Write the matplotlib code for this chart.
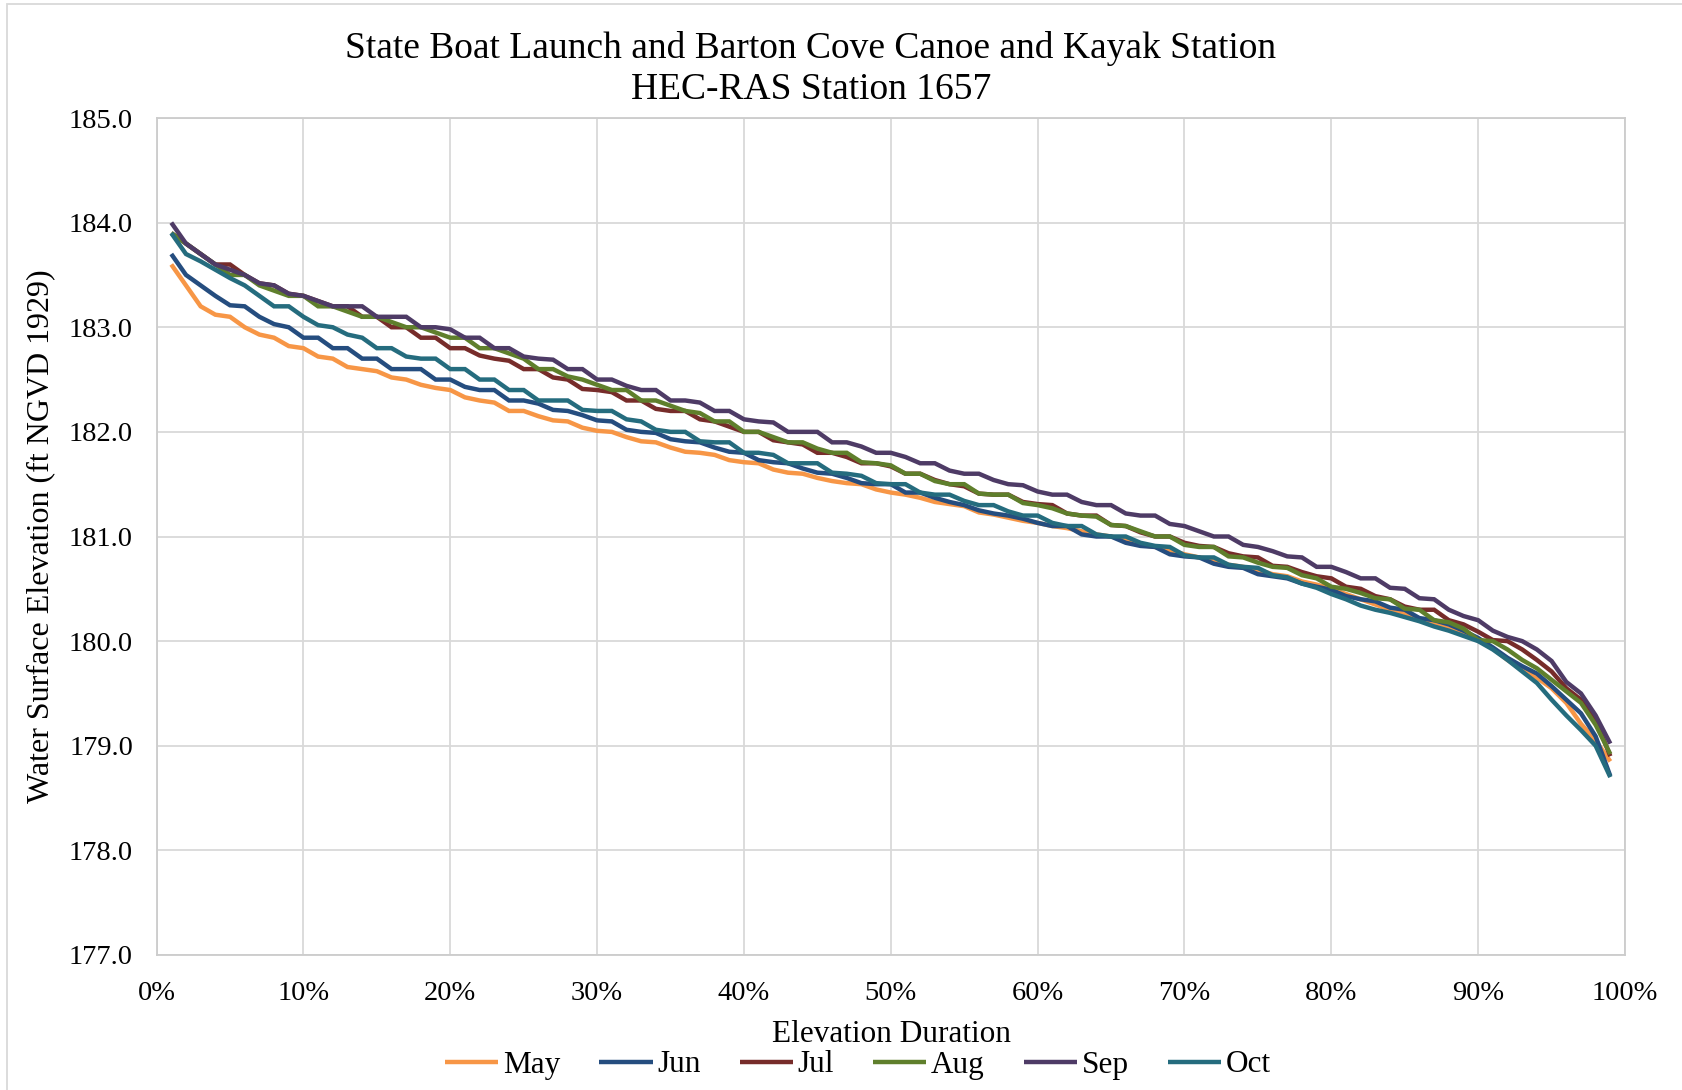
import matplotlib
matplotlib.use("Agg")
import matplotlib.pyplot as plt
from matplotlib.patches import Rectangle
from matplotlib.ticker import FuncFormatter
import numpy as np

# Exceedance percentages (1% .. 99%)
duration_pct = list(range(1, 100))

may = [183.60, 183.40, 183.20, 183.12, 183.10, 183.00, 182.93, 182.90, 182.82, 182.80,
       182.72, 182.70, 182.62, 182.60, 182.58, 182.52, 182.50, 182.45, 182.42, 182.40,
       182.33, 182.30, 182.28, 182.20, 182.20, 182.15, 182.11, 182.10, 182.04, 182.01,
       182.00, 181.95, 181.91, 181.90, 181.85, 181.81, 181.80, 181.78, 181.73, 181.71,
       181.70, 181.64, 181.61, 181.60, 181.56, 181.53, 181.51, 181.50, 181.45, 181.42,
       181.40, 181.37, 181.33, 181.31, 181.29, 181.23, 181.21, 181.18, 181.15, 181.13,
       181.10, 181.08, 181.05, 181.02, 181.00, 180.97, 180.92, 180.90, 180.87, 180.83,
       180.80, 180.78, 180.73, 180.71, 180.68, 180.64, 180.62, 180.57, 180.54, 180.50,
       180.45, 180.40, 180.35, 180.30, 180.27, 180.21, 180.17, 180.12, 180.07, 180.01,
       179.93, 179.82, 179.73, 179.65, 179.55, 179.41, 179.21, 179.05, 178.85]

jun = [183.70, 183.50, 183.40, 183.30, 183.21, 183.20, 183.10, 183.03, 183.00, 182.90,
       182.90, 182.80, 182.80, 182.70, 182.70, 182.60, 182.60, 182.60, 182.50, 182.50,
       182.43, 182.40, 182.40, 182.30, 182.30, 182.27, 182.21, 182.20, 182.16, 182.11,
       182.10, 182.02, 182.00, 181.99, 181.93, 181.91, 181.90, 181.85, 181.81, 181.80,
       181.73, 181.71, 181.70, 181.65, 181.61, 181.60, 181.56, 181.51, 181.50, 181.50,
       181.42, 181.42, 181.37, 181.33, 181.30, 181.25, 181.22, 181.20, 181.17, 181.13,
       181.10, 181.10, 181.02, 181.00, 181.00, 180.94, 180.91, 180.90, 180.83, 180.81,
       180.80, 180.74, 180.71, 180.70, 180.64, 180.62, 180.60, 180.55, 180.52, 180.49,
       180.43, 180.40, 180.38, 180.32, 180.30, 180.22, 180.20, 180.16, 180.10, 180.03,
       179.94, 179.84, 179.76, 179.69, 179.57, 179.44, 179.31, 179.09, 178.71]

jul = [183.90, 183.80, 183.70, 183.60, 183.60, 183.50, 183.42, 183.40, 183.32, 183.30,
       183.25, 183.20, 183.20, 183.10, 183.10, 183.00, 183.00, 182.90, 182.90, 182.80,
       182.80, 182.73, 182.70, 182.68, 182.60, 182.60, 182.52, 182.50, 182.41, 182.40,
       182.38, 182.30, 182.30, 182.22, 182.20, 182.20, 182.12, 182.10, 182.05, 182.00,
       182.00, 181.92, 181.90, 181.88, 181.80, 181.80, 181.76, 181.70, 181.70, 181.67,
       181.60, 181.60, 181.54, 181.50, 181.48, 181.41, 181.40, 181.40, 181.33, 181.31,
       181.30, 181.22, 181.20, 181.20, 181.11, 181.10, 181.04, 181.00, 181.00, 180.94,
       180.91, 180.90, 180.84, 180.81, 180.80, 180.72, 180.71, 180.66, 180.62, 180.60,
       180.52, 180.50, 180.43, 180.40, 180.33, 180.30, 180.30, 180.20, 180.16, 180.09,
       180.01, 180.00, 179.92, 179.82, 179.71, 179.55, 179.44, 179.25, 178.90]

aug = [183.90, 183.80, 183.70, 183.60, 183.50, 183.50, 183.40, 183.35, 183.30, 183.30,
       183.20, 183.20, 183.15, 183.10, 183.10, 183.05, 183.00, 183.00, 182.95, 182.90,
       182.90, 182.80, 182.80, 182.75, 182.70, 182.60, 182.60, 182.53, 182.50, 182.45,
       182.40, 182.40, 182.30, 182.30, 182.25, 182.20, 182.18, 182.10, 182.10, 182.00,
       182.00, 181.95, 181.90, 181.90, 181.84, 181.80, 181.80, 181.71, 181.70, 181.68,
       181.60, 181.60, 181.53, 181.50, 181.50, 181.41, 181.40, 181.40, 181.32, 181.30,
       181.27, 181.22, 181.20, 181.19, 181.11, 181.10, 181.05, 181.00, 181.00, 180.92,
       180.90, 180.90, 180.81, 180.80, 180.75, 180.71, 180.70, 180.63, 180.60, 180.52,
       180.50, 180.46, 180.41, 180.40, 180.31, 180.30, 180.20, 180.18, 180.12, 180.01,
       180.00, 179.92, 179.82, 179.74, 179.63, 179.52, 179.41, 179.20, 178.92]

sep = [184.00, 183.80, 183.70, 183.60, 183.55, 183.50, 183.42, 183.40, 183.32, 183.30,
       183.25, 183.20, 183.20, 183.20, 183.10, 183.10, 183.10, 183.00, 183.00, 182.98,
       182.90, 182.90, 182.80, 182.80, 182.72, 182.70, 182.69, 182.60, 182.60, 182.50,
       182.50, 182.44, 182.40, 182.40, 182.30, 182.30, 182.28, 182.20, 182.20, 182.12,
       182.10, 182.09, 182.00, 182.00, 182.00, 181.90, 181.90, 181.86, 181.80, 181.80,
       181.76, 181.70, 181.70, 181.63, 181.60, 181.60, 181.54, 181.50, 181.49, 181.43,
       181.40, 181.40, 181.33, 181.30, 181.30, 181.22, 181.20, 181.20, 181.12, 181.10,
       181.05, 181.00, 181.00, 180.92, 180.90, 180.86, 180.81, 180.80, 180.71, 180.71,
       180.66, 180.60, 180.60, 180.51, 180.50, 180.41, 180.40, 180.30, 180.24, 180.20,
       180.10, 180.04, 180.00, 179.92, 179.81, 179.61, 179.50, 179.29, 179.02]

oct_ = [183.90, 183.70, 183.63, 183.55, 183.47, 183.40, 183.30, 183.20, 183.20, 183.10,
        183.02, 183.00, 182.93, 182.90, 182.80, 182.80, 182.72, 182.70, 182.70, 182.60,
        182.60, 182.50, 182.50, 182.40, 182.40, 182.30, 182.30, 182.30, 182.21, 182.20,
        182.20, 182.12, 182.10, 182.02, 182.00, 182.00, 181.91, 181.90, 181.90, 181.80,
        181.80, 181.78, 181.70, 181.70, 181.70, 181.61, 181.60, 181.58, 181.51, 181.50,
        181.50, 181.42, 181.40, 181.40, 181.34, 181.30, 181.30, 181.24, 181.20, 181.20,
        181.13, 181.10, 181.10, 181.02, 181.00, 181.00, 180.94, 180.91, 180.90, 180.82,
        180.80, 180.80, 180.73, 180.71, 180.70, 180.63, 180.61, 180.55, 180.51, 180.45,
        180.40, 180.34, 180.30, 180.27, 180.23, 180.19, 180.14, 180.10, 180.05, 180.00,
        179.92, 179.82, 179.71, 179.60, 179.44, 179.29, 179.15, 179.00, 178.70]

month_labels = ["May", "Jun", "Jul", "Aug", "Sep", "Oct"]
month_series = [may, jun, jul, aug, sep, oct_]
month_colors = ["#F79646", "#254D7F", "#772C2A", "#5F7F2C", "#4E3B66", "#256C7E"]

x_ticks = list(range(0, 101, 10))
y_ticks = [177.0, 178.0, 179.0, 180.0, 181.0, 182.0, 183.0, 184.0, 185.0]

title_lines = ["State Boat Launch and Barton Cove Canoe and Kayak Station",
               "HEC-RAS Station 1657"]

SERIF = ["Liberation Serif", "DejaVu Serif"]
plt.rcParams["font.family"] = SERIF

W, H = 1682, 1090
fig = plt.figure(figsize=(W / 100, H / 100), dpi=100)
fig.patch.set_facecolor("white")

# outer chart-area border (left and top edges visible)
fig.add_artist(Rectangle((7 / W, -0.05), 1.2, 1 - 4 / H + 0.05,
                         transform=fig.transFigure, fill=False,
                         edgecolor="#d9d9d9", linewidth=1.3))

ax = fig.add_axes([156.6 / W, 1 - 955 / H, (1625 - 156.6) / W, (955 - 118) / H])

for label, vals, col in zip(month_labels, month_series, month_colors):
    ax.plot(duration_pct, vals, color=col, linewidth=3.2, label=label,
            solid_joinstyle="miter", solid_capstyle="butt")

ax.set_xlim(0, 100)
ax.set_ylim(177.0, 185.0)
ax.set_xticks(x_ticks)
ax.set_yticks(y_ticks)
ax.xaxis.set_major_formatter(FuncFormatter(lambda v, p: f"{v:.0f}%"))
ax.yaxis.set_major_formatter(FuncFormatter(lambda v, p: f"{v:.1f}"))
ax.tick_params(axis="both", length=0, labelsize=20.5, colors="black")
ax.tick_params(axis="y", pad=17)
ax.tick_params(axis="x", pad=19)
for lbl in ax.get_xticklabels() + ax.get_yticklabels():
    lbl.set_fontfamily(SERIF)
ax.grid(True, color="#d9d9d9", linewidth=1.3)
ax.set_axisbelow(True)
for sp in ax.spines.values():
    sp.set_color("#cccccc")
    sp.set_linewidth(1.3)

fig.text(41 / W, 0.5 * ((1 - 118 / H) + (1 - 955 / H)),
         "Water Surface Elevation (ft NGVD 1929)", rotation=90,
         ha="center", va="center", fontsize=23)
fig.text(891 / W, 1 - 1034 / H, "Elevation Duration",
         ha="center", va="center", fontsize=22.5)

fig.text(811 / W, 1 - 49 / H, title_lines[0], ha="center", va="center", fontsize=27)
fig.text(811 / W, 1 - 90 / H, title_lines[1], ha="center", va="center", fontsize=27)

fig.legend(loc="center", bbox_to_anchor=(858 / W, 1 - 1065 / H), ncol=6,
           frameon=False, fontsize=22.5, handlelength=1.7, handletextpad=0.15,
           columnspacing=1.25, borderpad=0)

fig.savefig("out.png", dpi=100, facecolor="white")
